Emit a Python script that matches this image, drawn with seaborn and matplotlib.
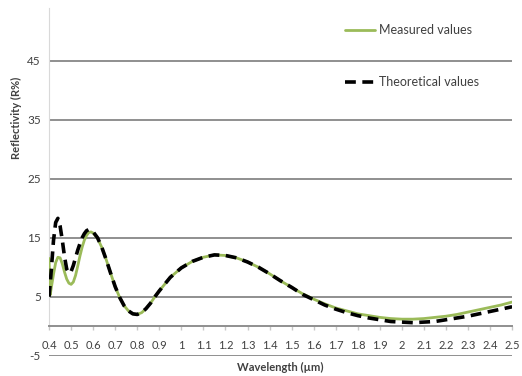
import numpy as np
import pandas as pd
import matplotlib
matplotlib.use("Agg")
import matplotlib.pyplot as plt
import seaborn as sns

# wavelength (um) and reflectivity (%)
wavelength = [0.400, 0.405, 0.41, 0.42, 0.43, 0.44, 0.45, 0.46, 0.47, 0.48, 0.49,
              0.50, 0.51, 0.52, 0.53, 0.54, 0.55, 0.56, 0.57, 0.58, 0.59, 0.60,
              0.62, 0.64, 0.66, 0.68, 0.70, 0.72, 0.74, 0.76, 0.78, 0.80, 0.82,
              0.84, 0.86, 0.88, 0.90, 0.95, 1.00, 1.05, 1.10, 1.15, 1.20, 1.25,
              1.30, 1.35, 1.40, 1.45, 1.50, 1.55, 1.60, 1.65, 1.70, 1.75, 1.80,
              1.85, 1.90, 1.95, 2.00, 2.05, 2.10, 2.15, 2.20, 2.25, 2.30, 2.35,
              2.40, 2.45, 2.50]
measured = [11.5, 5.3, 6.5, 8.8, 10.8, 11.7, 11.6, 10.6, 9.2, 8.0, 7.3,
            7.1, 7.5, 8.6, 10.2, 11.9, 13.4, 14.6, 15.4, 15.9, 16.0, 15.8,
            14.9, 13.3, 11.2, 8.9, 6.7, 4.9, 3.5, 2.6, 2.1, 2.0, 2.3,
            3.0, 3.9, 5.0, 6.0, 8.3, 9.9, 11.0, 11.7, 12.1, 12.0, 11.6,
            10.9, 10.0, 8.9, 7.7, 6.6, 5.5, 4.6, 3.8, 3.1, 2.6, 2.1,
            1.8, 1.5, 1.3, 1.2, 1.2, 1.3, 1.5, 1.7, 2.0, 2.4, 2.8,
            3.2, 3.6, 4.1]
theoretical = [5.0, 7.2, 9.5, 14.5, 17.6, 18.3, 17.0, 14.6, 11.8, 9.7, 9.0,
               9.3, 10.3, 11.6, 12.9, 14.0, 15.0, 15.7, 16.2, 16.4, 16.3, 16.0,
               15.0, 13.3, 11.2, 8.9, 6.7, 4.9, 3.5, 2.6, 2.1, 2.0, 2.3,
               3.0, 3.9, 5.0, 6.0, 8.3, 9.9, 11.0, 11.7, 12.1, 12.0, 11.6,
               10.9, 10.0, 8.9, 7.7, 6.6, 5.4, 4.5, 3.6, 2.9, 2.3, 1.8,
               1.4, 1.1, 0.8, 0.7, 0.6, 0.7, 0.8, 1.1, 1.4, 1.7, 2.1,
               2.5, 2.9, 3.3]

x_ticks = [0.4, 0.5, 0.6, 0.7, 0.8, 0.9, 1.0, 1.1, 1.2, 1.3, 1.4, 1.5, 1.6,
           1.7, 1.8, 1.9, 2.0, 2.1, 2.2, 2.3, 2.4, 2.5]
x_labels = ["0.4", "0.5", "0.6", "0.7", "0.8", "0.9", "1", "1.1", "1.2", "1.3",
            "1.4", "1.5", "1.6", "1.7", "1.8", "1.9", "2", "2.1", "2.2", "2.3",
            "2.4", "2.5"]
y_ticks = [-5, 5, 15, 25, 35, 45]

df = pd.DataFrame({"wl": wavelength, "meas": measured, "theo": theoretical})

sns.set_style("white")
plt.rcParams['font.family'] = ['Lato', 'DejaVu Sans']

fig = plt.figure(figsize=(5.22, 3.76), dpi=100)
ax = fig.add_axes([0.094, 0.054, 0.887, 0.925])

grid_col = "#8f8f8f"

sns.lineplot(data=df, x="wl", y="meas", ax=ax, color="#9bbb59", lw=2.0,
             label="Measured values", zorder=3)
sns.lineplot(data=df, x="wl", y="theo", ax=ax, color="black", lw=2.6,
             label="Theoretical values", zorder=4)
ax.lines[1].set_dashes([3.0, 1.8])

ax.set_xlim(0.4, 2.5)
ax.set_ylim(-5, 54)

# horizontal gridlines (Excel style)
ax.set_yticks(y_ticks)
ax.set_yticklabels([str(v) for v in y_ticks], fontsize=8.5, color="#404040")
ax.grid(axis="y", color=grid_col, lw=1.4)
ax.tick_params(axis="y", length=4, width=1.4, color=grid_col, pad=2)

# x axis crossing at zero
ax.spines["bottom"].set_position(("data", 0))
ax.spines["bottom"].set_color(grid_col)
ax.spines["bottom"].set_linewidth(1.4)
ax.spines["left"].set_bounds(0, 54)
ax.spines["left"].set_color("#d9d9d9")
ax.spines["right"].set_visible(False)
ax.spines["top"].set_visible(False)
ax.set_xticks(x_ticks)
ax.set_xticklabels(x_labels, fontsize=8, color="#404040")
ax.tick_params(axis="x", length=3, width=1, color="#c8c8c8", pad=7, bottom=True)

ax.set_xlabel("Wavelength (\u00b5m)", fontsize=8, fontweight="bold", color="#404040")
ax.xaxis.set_label_coords(0.5, -0.018)
ax.set_ylabel("Reflectivity (R%)", fontsize=8, fontweight="bold", color="#404040")
ax.yaxis.set_label_coords(-0.058, 0.684)

ax.legend(loc="upper left", bbox_to_anchor=(0.615, 0.985), frameon=False,
          fontsize=9, handlelength=2.4, handletextpad=0.3, labelspacing=3.2,
          labelcolor="#404040")

fig.savefig("out.png", dpi=100)
